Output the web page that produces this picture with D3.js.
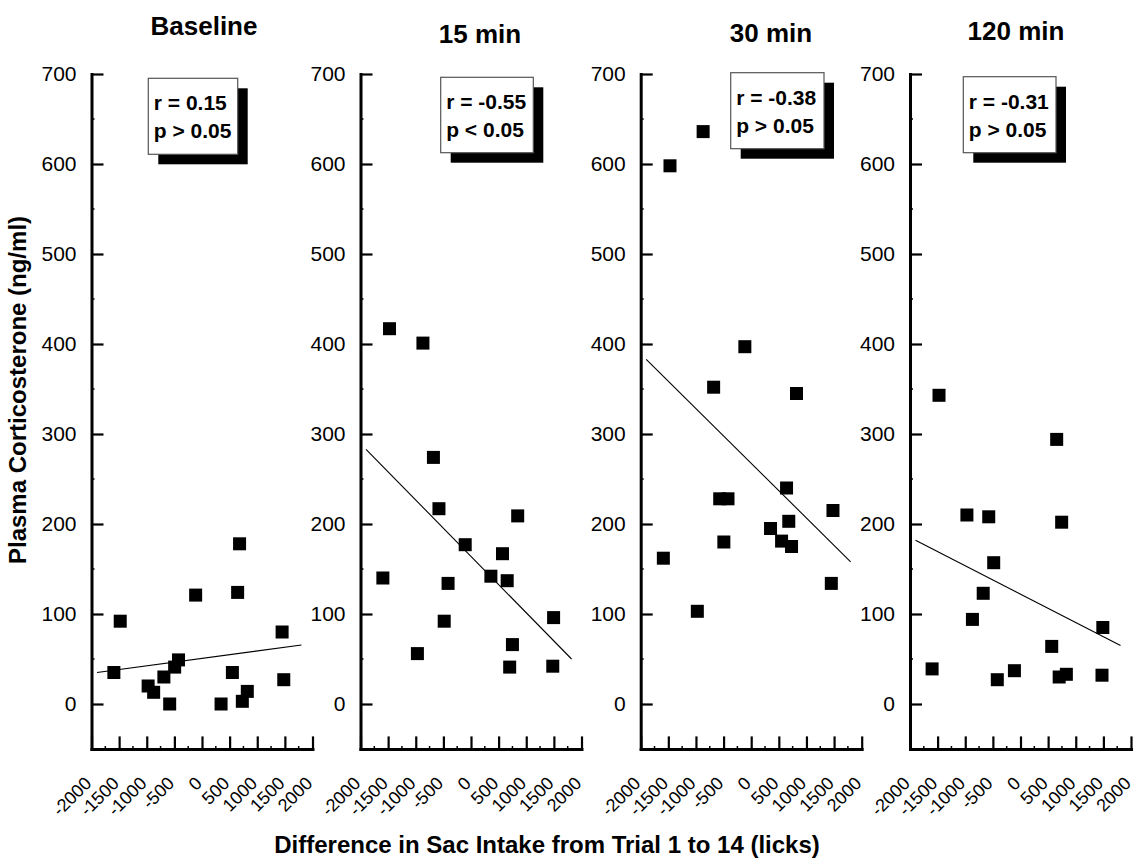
<!DOCTYPE html>
<html><head><meta charset="utf-8">
<script src="https://cdn.jsdelivr.net/npm/d3@7"></script>
<style>body{margin:0;background:#fff} svg{display:block} text{font-family:"Liberation Sans",Arial,sans-serif}</style>
</head><body><svg id="c" width="1134" height="860"></svg>
<script>
// ---- data ----
const panelTitles = ["Baseline", "15 min", "30 min", "120 min"];
const xTicks = [-2000, -1500, -1000, -500, 0, 500, 1000, 1500, 2000];
const yTicks = [0, 100, 200, 300, 400, 500, 600, 700];
const rLabels = ["r = 0.15", "r = -0.55", "r = -0.38", "r = -0.31"];
const pLabels = ["p > 0.05", "p < 0.05", "p > 0.05", "p > 0.05"];

const baselineX = [-1595, -1480, -975, -875, -690, -585, -495, -425, -115, 345, 550, 645, 680, 730, 820, 1450, 1480];
const baselineY = [35, 92, 20, 13, 30, 0, 41, 49, 121, 0, 35, 124, 178, 3, 14, 80, 27];

const min15X = [-1475, -870, -1595, -680, -970, -580, -485, -415, -105, 360, 570, 655, 845, 750, 700, 1495, 1480];
const min15Y = [417, 401, 140, 274, 56, 217, 92, 134, 177, 142, 167, 137, 209, 66, 41, 96, 42];

const min30X = [-1470, -870, -115, -680, 820, -1590, -975, -570, -420, -495, 350, 640, 680, 550, 730, 1480, 1450];
const min30Y = [598, 636, 397, 352, 345, 162, 103, 228, 228, 180, 195, 240, 203, 181, 175, 215, 134];

const min120X = [-1475, 655, -1600, -970, -870, -675, -575, -485, -420, -110, 565, 700, 830, 745, 1490, 1475];
const min120Y = [343, 294, 39, 210, 94, 123, 208, 157, 27, 37, 64, 30, 33, 202, 85, 32];

const fitStartX = [-1900, -1900, -1900, -1900];
const fitEndX = [1800, 1820, 1800, 1810];
const fitStartY = [35, 283, 383, 182];
const fitEndY = [65.5, 50, 158, 65];

const seriesX = [baselineX, min15X, min30X, min120X];
const seriesY = [baselineY, min15Y, min30Y, min120Y];

// ---- layout ----
const FONT = '"Liberation Sans", Arial, sans-serif';
const panelLeft = [91.5, 360.5, 640.7, 910];
const panelW = 221;
const titlePos = [[204, 35], [480, 43], [771, 42], [1016, 40]];
const boxPos = [[148.3, 78.3, 89.4, 76], [440.7, 77.3, 92.6, 75.4], [730.7, 72.7, 93.3, 76], [963.3, 76.7, 92.7, 76]];

const svg = d3.select("#c");
const y = d3.scaleLinear().domain([-50, 700]).range([749, 74]);

panelLeft.forEach((left, i) => {
  const x = d3.scaleLinear().domain([-2000, 2000]).range([left, left + panelW]);
  const g = svg.append("g");

  // minor ticks
  g.selectAll(".ymin").data(d3.range(50, 700, 100)).join("line")
    .attr("x1", left).attr("x2", left + 3).attr("y1", d => y(d)).attr("y2", d => y(d))
    .attr("stroke", "#000").attr("stroke-width", 1.5);
  g.selectAll(".xmin").data(d3.range(-1750, 2000, 500)).join("line")
    .attr("x1", d => x(d)).attr("x2", d => x(d)).attr("y1", 749).attr("y2", 746)
    .attr("stroke", "#000").attr("stroke-width", 1.5);

  // y axis
  const ya = g.append("g").attr("transform", `translate(${left},0)`)
    .call(d3.axisLeft(y).tickValues(yTicks).tickSizeInner(-12).tickSizeOuter(0).tickPadding(15))
    .attr("font-family", FONT).attr("font-size", 21);
  ya.select(".domain").attr("stroke-width", 3).attr("stroke-linecap", "square");
  ya.selectAll(".tick line").attr("stroke-width", 2.2);
  ya.selectAll(".tick text").attr("fill", "#000");

  // x axis
  const xa = g.append("g").attr("transform", `translate(0,749)`)
    .call(d3.axisBottom(x).tickValues(xTicks).tickSizeInner(-12.6).tickSizeOuter(0))
    .attr("font-family", FONT);
  xa.select(".domain").attr("stroke-width", 3).attr("stroke-linecap", "square");
  xa.selectAll(".tick line").attr("stroke-width", 2.2);
  xa.selectAll(".tick text").remove();
  g.selectAll(".xl").data(xTicks).join("text")
    .attr("transform", d => `translate(${x(d) - 3.5},780) rotate(-45)`)
    .attr("text-anchor", "end").attr("dy", "0.35em")
    .attr("font-size", 18).attr("font-family", FONT).attr("fill", "#000")
    .text(d => d);

  // fit line
  g.append("line")
    .attr("x1", x(fitStartX[i])).attr("y1", y(fitStartY[i]))
    .attr("x2", x(fitEndX[i])).attr("y2", y(fitEndY[i]))
    .attr("stroke", "#000").attr("stroke-width", 1.1);

  // points
  const pts = seriesX[i].map((v, k) => [v, seriesY[i][k]]);
  const s = 13;
  g.selectAll(".pt").data(pts).join("rect")
    .attr("x", d => x(d[0]) - s / 2).attr("y", d => y(d[1]) - s / 2)
    .attr("width", s).attr("height", s).attr("fill", "#000");

  // annotation box
  const [bx, by, bw, bh] = boxPos[i];
  g.append("rect").attr("x", bx + 10).attr("y", by + 10).attr("width", bw).attr("height", bh).attr("fill", "#000");
  g.append("rect").attr("x", bx).attr("y", by).attr("width", bw).attr("height", bh)
    .attr("fill", "#fff").attr("stroke", "#555").attr("stroke-width", 1.2);
  g.append("text").attr("x", bx + 5.5).attr("y", by + 32).attr("font-size", 21).attr("font-weight", "bold")
    .attr("font-family", FONT).text(rLabels[i]);
  g.append("text").attr("x", bx + 5.5).attr("y", by + 60).attr("font-size", 21).attr("font-weight", "bold")
    .attr("font-family", FONT).text(pLabels[i]);

  // title
  svg.append("text").attr("x", titlePos[i][0]).attr("y", titlePos[i][1])
    .attr("text-anchor", "middle").attr("font-size", 26).attr("font-weight", "bold")
    .attr("font-family", FONT).text(panelTitles[i]);
});

// axis titles
svg.append("text").attr("transform", "translate(26,390) rotate(-90)")
  .attr("text-anchor", "middle").attr("font-size", 24).attr("font-weight", "bold")
  .attr("font-family", FONT).text("Plasma Corticosterone (ng/ml)");
svg.append("text").attr("x", 547).attr("y", 853)
  .attr("text-anchor", "middle").attr("font-size", 24).attr("font-weight", "bold")
  .attr("font-family", FONT).text("Difference in Sac Intake from Trial 1 to 14 (licks)");
</script>
</body></html>
